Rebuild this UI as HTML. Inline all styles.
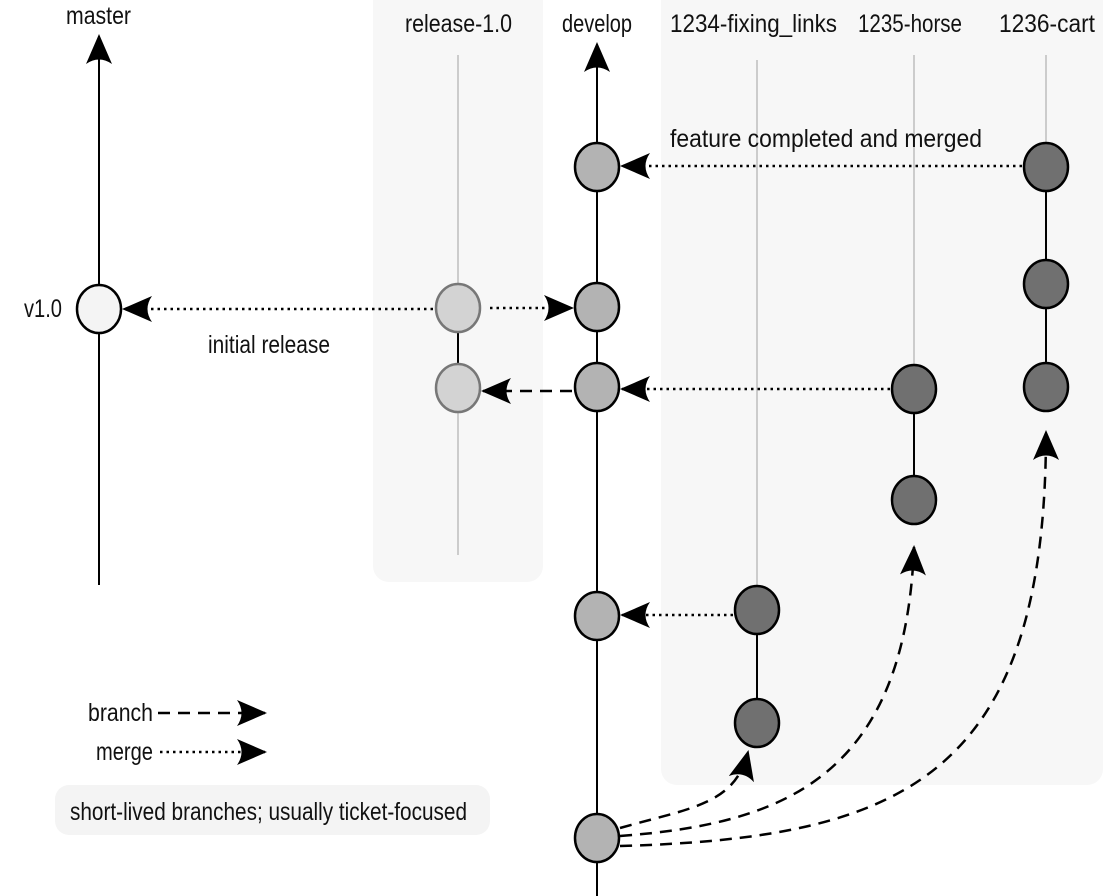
<!DOCTYPE html>
<html><head><meta charset="utf-8"><style>
html,body{margin:0;padding:0;background:#fff;}
svg{display:block;}
text{font-family:"Liberation Sans",sans-serif;font-size:25px;fill:#111;}
</style></head><body>
<svg width="1116" height="896" viewBox="0 0 1116 896" xmlns="http://www.w3.org/2000/svg">
<defs>
<marker id="ah" viewBox="0 0 30 26" refX="28" refY="13" markerWidth="30" markerHeight="26" markerUnits="userSpaceOnUse" orient="auto">
<path d="M0,0 L30,13 L0,26 Q9,13 0,0Z" fill="#000"/>
</marker>
</defs>
<rect x="373" y="-20" width="170" height="602" rx="16" fill="#f7f7f7"/>
<rect x="661" y="-20" width="442" height="805" rx="16" fill="#f7f7f7"/>
<rect x="55" y="785" width="435" height="50" rx="14" fill="#f4f4f4"/>

<line x1="458" y1="55" x2="458" y2="555" stroke="#ccc" stroke-width="2"/>
<line x1="757" y1="60" x2="757" y2="600" stroke="#ccc" stroke-width="2"/>
<line x1="914" y1="55" x2="914" y2="380" stroke="#ccc" stroke-width="2"/>
<line x1="1046" y1="55" x2="1046" y2="160" stroke="#ccc" stroke-width="2"/>

<line x1="99" y1="585" x2="99" y2="36" stroke="#000" stroke-width="2" marker-end="url(#ah)"/>
<line x1="597" y1="896" x2="597" y2="44" stroke="#000" stroke-width="2" marker-end="url(#ah)"/>
<line x1="458" y1="308" x2="458" y2="385" stroke="#000" stroke-width="2"/>
<line x1="757" y1="610" x2="757" y2="720" stroke="#000" stroke-width="2"/>
<line x1="914" y1="385" x2="914" y2="497" stroke="#000" stroke-width="2"/>
<line x1="1046" y1="165" x2="1046" y2="383" stroke="#000" stroke-width="2"/>

<g stroke="#000" stroke-width="2.5" stroke-dasharray="2.5,4" fill="none">
<line x1="1022" y1="166" x2="622" y2="166" marker-end="url(#ah)"/>
<line x1="433" y1="309" x2="124" y2="309" marker-end="url(#ah)"/>
<line x1="490" y1="308" x2="572" y2="308" marker-end="url(#ah)"/>
<line x1="890" y1="389" x2="622" y2="389" marker-end="url(#ah)"/>
<line x1="733" y1="615" x2="622" y2="615" marker-end="url(#ah)"/>
<line x1="160" y1="752" x2="265" y2="752" marker-end="url(#ah)"/>
</g>
<g stroke="#000" stroke-width="2.5" stroke-dasharray="12,8" fill="none">
<line x1="572" y1="391" x2="483" y2="391" marker-end="url(#ah)"/>
<path d="M620,828 C690,808 735,805 748,752" marker-end="url(#ah)"/>
<path d="M620,836 C780,824 905,780 914,547" marker-end="url(#ah)"/>
<path d="M620,846 C900,838 1046,780 1046,432" marker-end="url(#ah)"/>
<line x1="158" y1="713" x2="265" y2="713" marker-end="url(#ah)"/>
</g>

<g stroke-width="2.5">
<ellipse cx="99" cy="309" rx="22" ry="24" fill="#f4f4f4" stroke="#000"/>
<ellipse cx="458" cy="308" rx="22" ry="24" fill="#d3d3d3" stroke="#777"/>
<ellipse cx="458" cy="388" rx="22" ry="24" fill="#d3d3d3" stroke="#777"/>
<g fill="#b3b3b3" stroke="#000">
<ellipse cx="597" cy="167" rx="22" ry="24"/>
<ellipse cx="597" cy="307" rx="22" ry="24"/>
<ellipse cx="597" cy="387" rx="22" ry="24"/>
<ellipse cx="597" cy="616" rx="22" ry="24"/>
<ellipse cx="597" cy="838" rx="22" ry="24"/>
</g>
<g fill="#707070" stroke="#000">
<ellipse cx="757" cy="610" rx="22" ry="24"/>
<ellipse cx="757" cy="723" rx="22" ry="24"/>
<ellipse cx="914" cy="389" rx="22" ry="24"/>
<ellipse cx="914" cy="500" rx="22" ry="24"/>
<ellipse cx="1046" cy="167" rx="22" ry="24"/>
<ellipse cx="1046" cy="284" rx="22" ry="24"/>
<ellipse cx="1046" cy="387" rx="22" ry="24"/>
</g>
</g>

<g lengthAdjust="spacingAndGlyphs">
<text x="66" y="24" textLength="65" lengthAdjust="spacingAndGlyphs">master</text>
<text x="405" y="32" textLength="107" lengthAdjust="spacingAndGlyphs">release-1.0</text>
<text x="562" y="32" textLength="70" lengthAdjust="spacingAndGlyphs">develop</text>
<text x="670" y="32" textLength="167" lengthAdjust="spacingAndGlyphs">1234-fixing_links</text>
<text x="858" y="32" textLength="104" lengthAdjust="spacingAndGlyphs">1235-horse</text>
<text x="999" y="32" textLength="96" lengthAdjust="spacingAndGlyphs">1236-cart</text>
<text x="670" y="147" textLength="312" lengthAdjust="spacingAndGlyphs">feature completed and merged</text>
<text x="208" y="353" textLength="122" lengthAdjust="spacingAndGlyphs">initial release</text>
<text x="70" y="820" textLength="397" lengthAdjust="spacingAndGlyphs">short-lived branches; usually ticket-focused</text>
<text x="24" y="317" textLength="38" lengthAdjust="spacingAndGlyphs">v1.0</text>
<text x="88" y="721" textLength="65" lengthAdjust="spacingAndGlyphs">branch</text>
<text x="96" y="760" textLength="57" lengthAdjust="spacingAndGlyphs">merge</text>
</g>
</svg>
</body></html>
